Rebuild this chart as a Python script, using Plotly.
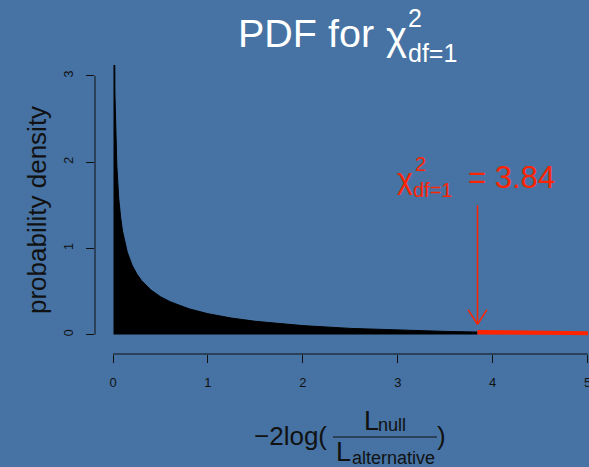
import plotly.graph_objects as go

# ---- data (chi-square, df = 1 density) ----
x_body = [0.005, 0.01, 0.02, 0.04, 0.06, 0.08, 0.10, 0.15, 0.20, 0.25, 0.30, 0.40,
          0.50, 0.60, 0.80, 1.00, 1.25, 1.50, 1.75, 2.00, 2.50, 3.00, 3.50, 3.84]
y_body = [5.63, 3.97, 2.79, 1.96, 1.58, 1.36, 1.20, 0.956, 0.807, 0.704, 0.627, 0.517,
          0.439, 0.382, 0.299, 0.242, 0.191, 0.154, 0.126, 0.104, 0.072, 0.051, 0.037, 0.030]
x_tail = [3.84, 4.00, 4.50, 5.00, 5.20]
y_tail = [0.030, 0.027, 0.020, 0.015, 0.013]
critical_value = 3.84
arrow_top = 1.50
arrow_tip = 0.12
x_ticks = [0, 1, 2, 3, 4, 5]
y_ticks = [0, 1, 2, 3]

BG = "#4673a3"
RED = "#ff2400"
FONT = "Liberation Sans, Arial, Helvetica, sans-serif"
W, H = 589, 467
L, R, T, B = 95, 1, 65, 113
PW, PH = W - L - R, H - T - B


def px(xp):
    return (xp - L) / PW


def py(yp):
    return (H - B - yp) / PH


fig = go.Figure()
fig.add_trace(go.Scatter(x=x_body, y=y_body, mode="lines", fill="tozeroy",
                         fillcolor="black", line=dict(color="black", width=1),
                         hoverinfo="skip", showlegend=False))
fig.add_trace(go.Scatter(x=x_tail, y=y_tail, mode="lines", fill="tozeroy",
                         fillcolor=RED, line=dict(color=RED, width=4),
                         hoverinfo="skip", showlegend=False))

shapes = [
    # R-style detached axis lines
    dict(type="line", xref="x", yref="paper", x0=x_ticks[0], x1=x_ticks[-1], y0=0, y1=0,
         line=dict(color="#111", width=1)),
    dict(type="line", xref="paper", yref="y", x0=0, x1=0, y0=y_ticks[0], y1=y_ticks[-1],
         line=dict(color="#111", width=1)),
    # arrow
    dict(type="line", xref="x", yref="y", x0=critical_value, x1=critical_value,
         y0=arrow_top, y1=arrow_tip, line=dict(color=RED, width=1.5)),
    dict(type="line", xref="x", yref="y", x0=critical_value - 0.1, x1=critical_value,
         y0=arrow_tip + 0.17, y1=arrow_tip, line=dict(color=RED, width=1.5)),
    dict(type="line", xref="x", yref="y", x0=critical_value + 0.1, x1=critical_value,
         y0=arrow_tip + 0.17, y1=arrow_tip, line=dict(color=RED, width=1.5)),
    # fraction bar in x title
    dict(type="line", xref="paper", yref="paper", x0=px(333), x1=px(437),
         y0=py(437), y1=py(437), line=dict(color="#111", width=1)),
]


def ann(text, xpix, ypix, size, color, xanchor="left", angle=0):
    return dict(text=text, xref="paper", yref="paper", x=px(xpix), y=py(ypix),
                xanchor=xanchor, yanchor="middle", showarrow=False, textangle=angle,
                font=dict(family=FONT, size=size, color=color))


annotations = [
    # title
    ann("PDF for", 236, 33, 39.5, "white"),
    ann("χ", 384, 36, 40, "white"),
    ann("2", 406, 18, 25, "white"),
    ann("df=1", 406, 53, 25, "white"),
    # red label
    ann("χ", 395, 178, 30, RED),
    ann("2", 413, 164, 20, RED),
    ann("df=1", 411, 190, 20, RED),
    ann("= 3.84", 466, 177, 31, RED),
    # y title
    ann("probability density", 37, 210, 26, "#111", xanchor="center", angle=-90),
    # x title
    ann("\u22122log(", 252, 436, 26, "#111"),
    ann("L", 362, 421, 27, "#111"),
    ann("null", 376, 425, 18, "#111"),
    ann("L", 334, 452, 27, "#111"),
    ann("alternative", 350, 458, 18, "#111"),
    ann(")", 435, 436, 26, "#111"),
]

fig.update_layout(
    width=W, height=H,
    margin=dict(l=L, r=R, t=T, b=B, pad=0, autoexpand=False),
    paper_bgcolor=BG, plot_bgcolor=BG,
    showlegend=False,
    shapes=shapes, annotations=annotations,
    font=dict(family=FONT, color="#111"),
)
fig.update_xaxes(range=[-0.19, 5.004], tickvals=x_ticks, ticktext=[str(v) for v in x_ticks],
                 showgrid=False, zeroline=False, showline=False, automargin=False,
                 ticks="outside", ticklen=8, tickcolor="#111", tickwidth=1,
                 ticklabelstandoff=8, ticklabeloverflow="allow",
                 tickfont=dict(size=13, color="#111", family=FONT))
fig.update_yaxes(range=[-0.225, 3.125], tickvals=y_ticks, ticktext=[str(v) for v in y_ticks],
                 showgrid=False, zeroline=False, showline=False, automargin=False,
                 ticks="outside", ticklen=8, tickcolor="#111", tickwidth=1,
                 tickangle=-90, ticklabelstandoff=8,
                 tickfont=dict(size=12.5, color="#111", family=FONT))

fig.write_html(
    "out.html",
    config={"displayModeBar": False},
    post_script="document.body.style.margin='0';"
                "document.documentElement.style.overflow='hidden';"
                "document.body.style.overflow='hidden';",
)
